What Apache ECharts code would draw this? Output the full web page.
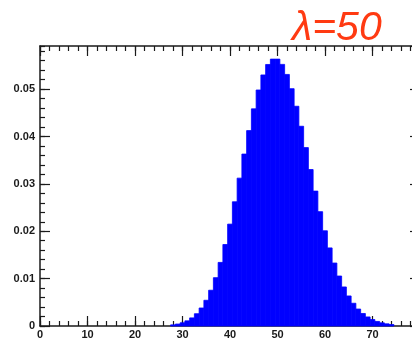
<!DOCTYPE html>
<html>
<head>
<meta charset="utf-8">
<script src="https://cdn.jsdelivr.net/npm/echarts@6/dist/echarts.min.js"></script>
<style>
  html, body { margin: 0; padding: 0; background: #fff; overflow: hidden; }
  /* frame continues past the right edge of the picture, as in the original */
  #chart { width: 420px; height: 340px; }
</style>
</head>
<body>
<div id="chart"></div>
<script>
// Poisson histogram, lambda = 50 (bin centre k, probability)
const bins = [
  28, 29, 30, 31, 32, 33, 34, 35, 36, 37, 38, 39, 40, 41, 42, 43, 44, 45, 46, 47, 48, 49, 50,
  51, 52, 53, 54, 55, 56, 57, 58, 59, 60, 61, 62, 63, 64, 65, 66, 67, 68, 69, 70, 71, 72, 73, 74
]
const probs = [
  0.00024, 0.00041, 0.00068, 0.00109, 0.00171, 0.00259, 0.00380, 0.00543,
  0.00755, 0.01020, 0.01342, 0.01720, 0.02150, 0.02622, 0.03121, 0.03629, 0.04124, 0.04583,
  0.04981, 0.05299, 0.05520, 0.05633, 0.05633, 0.05522, 0.05310, 0.05009, 0.04638, 0.04216,
  0.03765, 0.03302, 0.02847, 0.02413, 0.02010, 0.01648, 0.01329, 0.01055, 0.00824, 0.00634,
  0.00480, 0.00358, 0.00264, 0.00191, 0.00136, 0.00096, 0.00067, 0.00046, 0.00031
]
const xMax = 80
const yMax = 0.0591

const chart = echarts.init(document.getElementById('chart'))

const lineStyle = { color: '#1a1a1a', width: 1.5 }
const tickStyle = { color: '#1a1a1a', width: 1.2 }
const labelFont = {
  color: '#1a1a1a',
  fontFamily: 'Liberation Sans, Arial, sans-serif',
  fontWeight: 'bold',
  fontSize: 11,
}

// ECharts moves a second axis on the same side to the other side,
// so each (major|minor) x (left/bottom|right/top) pair gets its own grid
const rect = { left: 40, right: 0, top: 46, bottom: 14 }

const makeX = (grid, position, interval, len, withLine, withLabel) => ({
  type: 'value',
  gridIndex: grid,
  position,
  min: 0,
  max: xMax,
  interval,
  axisLine: { show: withLine, onZero: false, lineStyle },
  axisTick: { show: true, inside: true, length: len, lineStyle: tickStyle },
  axisLabel: { show: withLabel, ...labelFont, margin: 3, showMaxLabel: false },
  splitLine: { show: false },
})

const makeY = (grid, position, interval, len, withLine, withLabel) => ({
  type: 'value',
  gridIndex: grid,
  position,
  min: 0,
  max: yMax,
  interval,
  axisLine: { show: withLine, onZero: false, lineStyle },
  axisTick: { show: true, inside: true, length: len, lineStyle: tickStyle },
  axisLabel: {
    show: withLabel,
    ...labelFont,
    margin: 5,
    showMaxLabel: false,
    formatter: (v) => (v === 0 ? '0' : v.toFixed(2)),
  },
  splitLine: { show: false },
})

chart.setOption({
  animation: false,
  title: {
    text: 'λ=50',
    left: 287,
    top: 3,
    textStyle: {
      color: '#ff3a12',
      fontFamily: 'Liberation Sans, Arial, sans-serif',
      fontStyle: 'italic',
      fontWeight: 'normal',
      fontSize: 41,
    },
  },
  grid: [rect, rect, rect, rect],
  xAxis: [
    makeX(0, 'bottom', 10, 10, true, true),
    makeX(1, 'bottom', 2, 5, false, false),
    makeX(2, 'top', 10, 10, true, false),
    makeX(3, 'top', 2, 5, false, false),
  ],
  yAxis: [
    makeY(0, 'left', 0.01, 10, true, true),
    makeY(1, 'left', 0.002, 5, false, false),
    makeY(2, 'right', 0.01, 10, true, false),
    makeY(3, 'right', 0.002, 5, false, false),
  ],
  series: [
    {
      type: 'custom',
      xAxisIndex: 0,
      yAxisIndex: 0,
      data: bins.map((k, i) => [k, probs[i]]),
      renderItem: (params, api) => {
        const topLeft = api.coord([api.value(0) - 0.5, api.value(1)])
        const bottomRight = api.coord([api.value(0) + 0.5, 0])
        return {
          type: 'rect',
          shape: {
            x: topLeft[0],
            y: topLeft[1],
            width: bottomRight[0] - topLeft[0],
            height: bottomRight[1] - topLeft[1],
          },
          style: { fill: '#0000ff', stroke: '#0000ff', lineWidth: 0.8 },
        }
      },
    },
  ],
})
</script>
</body>
</html>
